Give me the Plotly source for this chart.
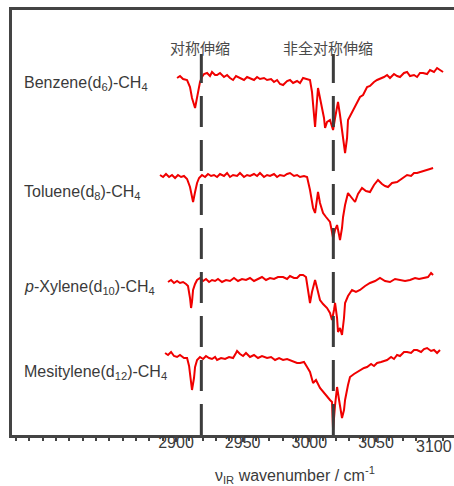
import plotly.graph_objects as go

# ---- data ----
benzene_wn = [2900.8, 2903.0, 2905.3, 2908.3, 2910.5, 2912.0, 2914.3, 2915.8, 2916.5, 2918.0, 2919.5, 2921.0,
              2923.3, 2925.5, 2927.0, 2929.3, 2930.8, 2933.0, 2936.0, 2938.3, 2940.5, 2942.8, 2945.0, 2948.0,
              2951.0, 2953.3, 2955.5, 2958.5, 2960.8, 2963.0, 2966.0, 2968.3, 2971.3, 2973.5, 2975.8, 2978.0,
              2980.3, 2983.3, 2985.5, 2987.8, 2990.8, 2993.0, 2995.3, 2998.3, 3000.5, 3002.0, 3004.3, 3005.8,
              3006.5, 3008.0, 3009.5, 3011.0, 3011.8, 3013.3, 3015.5, 3017.0, 3017.8, 3019.3, 3021.5, 3023.0,
              3024.5, 3026.0, 3026.8, 3028.3, 3029.0, 3030.5, 3032.8, 3035.0, 3038.0, 3040.3, 3043.3, 3045.5,
              3048.5, 3050.8, 3053.0, 3056.0, 3058.3, 3060.5, 3063.5, 3065.8, 3068.0, 3071.0, 3073.3, 3075.5,
              3078.5, 3080.8, 3083.0, 3085.3, 3088.3, 3090.5, 3093.5, 3095.8, 3098.0, 3100.3]
benzene_sig = [-1, 1, -2, -3, -10, -21, -31, -21, -16, -5, 0, 3,
               4, 1, 5, 2, 2, 4, 0, 2, -1, -3, 1, -1,
               -3, 0, -1, -3, 0, -2, -1, -3, -2, -5, -3, -7,
               -8, -4, -3, -6, -4, -6, -1, -2, -3, -15, -50, -23,
               -11, -21, -30, -41, -51, -45, -43, -49, -53, -41, -25, -38,
               -56, -68, -76, -61, -43, -39, -33, -27, -20, -18, -10, -9,
               -5, -3, -2, 0, 2, -1, 3, 1, 0, 4, 5, 1,
               2, 0, 4, 4, 3, 7, 5, 9, 7, 5]

toluene_wn = [2888.0, 2890.3, 2892.5, 2894.8, 2897.0, 2899.3, 2901.5, 2903.8, 2906.0, 2908.3, 2910.5, 2912.0,
              2912.8, 2914.3, 2915.8, 2917.3, 2919.5, 2921.8, 2924.0, 2926.3, 2928.5, 2930.8, 2933.0, 2936.0,
              2938.3, 2940.5, 2942.8, 2945.8, 2948.0, 2951.0, 2953.3, 2955.5, 2958.5, 2960.8, 2963.0, 2966.0,
              2968.3, 2970.5, 2973.5, 2975.8, 2978.0, 2981.0, 2983.3, 2985.5, 2988.5, 2990.8, 2993.0, 2996.0,
              2998.3, 3000.5, 3002.8, 3004.3, 3005.8, 3006.5, 3008.0, 3010.3, 3012.5, 3015.5, 3017.0, 3017.8,
              3019.3, 3020.8, 3022.3, 3023.0, 3024.5, 3025.3, 3026.8, 3029.0, 3031.3, 3034.3, 3036.5, 3039.5,
              3042.5, 3045.5, 3048.5, 3051.5, 3054.5, 3056.8, 3059.0, 3062.0, 3065.8, 3068.8, 3071.0, 3073.3,
              3076.3, 3078.5, 3080.8, 3083.8, 3086.0, 3088.3, 3090.5, 3092.8]
toluene_sig = [1, -1, 2, -1, 1, -2, 1, -1, 0, -3, -11, -21,
               -26, -16, -7, -2, 1, -1, 2, 0, 1, -1, 2, 0,
               3, -1, 1, 0, 3, -1, 1, 0, 2, 0, 3, -1,
               1, 0, 2, -1, 1, 0, 2, 3, 0, 1, -1, 0,
               -1, -14, -32, -37, -22, -16, -27, -37, -41, -46, -56, -62,
               -54, -49, -59, -64, -52, -41, -29, -17, -21, -26, -18, -12,
               -15, -16, -9, -4, -8, -10, -11, -7, -6, -3, -1, 1,
               0, 3, 3, 4, 5, 6, 7, 8]

xylene_wn = [2894.0, 2896.3, 2898.5, 2900.8, 2903.0, 2905.3, 2907.5, 2909.0, 2910.5, 2911.3, 2912.0, 2912.8,
             2914.3, 2915.8, 2918.0, 2920.3, 2922.5, 2924.8, 2927.0, 2929.3, 2931.5, 2934.5, 2937.5, 2940.5,
             2943.5, 2946.5, 2949.5, 2952.5, 2955.5, 2958.5, 2961.5, 2964.5, 2967.5, 2970.5, 2973.5, 2976.5,
             2980.3, 2983.3, 2985.5, 2988.5, 2990.8, 2993.0, 2995.3, 2997.5, 2999.0, 3000.5, 3002.0, 3004.3,
             3005.8, 3008.0, 3010.3, 3013.3, 3015.5, 3017.0, 3018.5, 3019.3, 3020.8, 3021.5, 3023.0, 3024.5,
             3026.0, 3026.8, 3029.0, 3032.0, 3035.0, 3038.0, 3041.8, 3045.5, 3049.3, 3053.0, 3056.8, 3060.5,
             3064.3, 3068.0, 3071.8, 3075.5, 3079.3, 3082.3, 3085.3, 3089.0, 3091.3, 3092.8]
xylene_sig = [-2, 0, -3, -1, -3, -2, -4, -6, -18, -28, -22, -10,
              -4, 0, 2, -1, 1, -2, 0, -1, 1, -2, 0, -1,
              2, -1, 1, 0, 2, -1, 1, 3, 0, 2, 1, 3,
              3, 1, 4, 2, 2, 5, 5, 3, -10, -23, -12, 0,
              -8, -20, -24, -28, -33, -40, -30, -23, -38, -52, -48, -55,
              -38, -23, -16, -10, -12, -10, -6, -3, -1, 2, -1, -2,
              1, 0, -1, 0, 2, 1, 2, 3, 7, 5]

mesitylene_wn = [2891.8, 2894.0, 2896.3, 2898.5, 2900.8, 2903.0, 2906.0, 2908.3, 2909.8, 2910.5, 2912.0, 2913.5,
                 2914.3, 2915.8, 2918.0, 2920.3, 2922.5, 2924.8, 2927.0, 2929.3, 2930.8, 2933.8, 2936.8, 2939.8,
                 2942.8, 2945.0, 2945.8, 2948.0, 2950.3, 2952.5, 2955.5, 2958.5, 2961.5, 2964.5, 2968.3, 2971.3,
                 2974.3, 2977.3, 2980.3, 2983.3, 2985.5, 2988.5, 2990.8, 2993.0, 2996.0, 2998.3, 3000.5, 3002.8,
                 3005.0, 3008.0, 3010.3, 3013.3, 3015.5, 3017.0, 3017.8, 3019.3, 3020.8, 3022.3, 3024.5, 3026.0,
                 3026.8, 3029.0, 3030.5, 3033.5, 3035.8, 3038.8, 3041.0, 3043.3, 3046.3, 3048.5, 3050.8, 3053.8,
                 3056.0, 3058.3, 3061.3, 3063.5, 3065.8, 3068.0, 3071.0, 3073.3, 3076.3, 3078.5, 3080.8, 3083.8,
                 3086.0, 3088.3, 3091.3, 3093.5, 3095.8, 3098.0]
mesitylene_sig = [4, 2, 5, 1, 0, 2, -1, -1, -9, -16, -33, -21,
                  -10, -3, 0, -2, 1, -1, -2, 0, -3, -1, -2, 0,
                  -1, 4, 6, 3, 1, 4, 0, 2, -1, 1, -1, 0,
                  -3, -1, -3, -2, -3, -5, -6, -6, -5, -10, -15, -26,
                  -23, -31, -35, -40, -43, -45, -73, -48, -30, -43, -61, -53,
                  -43, -28, -20, -17, -15, -13, -11, -10, -7, -9, -6, -5,
                  -4, -3, 0, -2, 2, 1, 5, 5, 4, 7, 7, 5,
                  8, 9, 6, 7, 4, 7]

series_names = ["Benzene(d<sub>6</sub>)-CH<sub>4</sub>",
                "Toluene(d<sub>8</sub>)-CH<sub>4</sub>",
                "<i>p</i>-Xylene(d<sub>10</sub>)-CH<sub>4</sub>",
                "Mesitylene(d<sub>12</sub>)-CH<sub>4</sub>"]
series_offsets = [358, 259, 155, 78]
label_y = [352, 243, 148, 63]

band_positions = [2919, 3018]
band_labels = ["对称伸缩", "非全对称伸缩"]
band_label_x = [2918, 3014]

x_ticks = [2900, 2950, 3000, 3050, 3100]
x_title = "ν<sub>IR</sub> wavenumber / cm<sup>-1</sup>"

tick_font = dict(family="Liberation Sans, Arial", size=16, color="#3a3a3a")

# ---- figure ----
fig = go.Figure()
all_wn = [benzene_wn, toluene_wn, xylene_wn, mesitylene_wn]
all_sig = [benzene_sig, toluene_sig, xylene_sig, mesitylene_sig]
for wn, sig, off in zip(all_wn, all_sig, series_offsets):
    fig.add_trace(go.Scatter(x=wn, y=[s + off for s in sig], mode="lines",
                             line=dict(color="#f00000", width=2), showlegend=False,
                             hoverinfo="skip"))

for xb in band_positions:
    fig.add_shape(type="line", xref="x", yref="y", x0=xb, x1=xb, y0=0, y1=381,
                  line=dict(color="#3c3c3c", width=3, dash="31px,13px"), layer="above")

for name, ly in zip(series_names, label_y):
    fig.add_annotation(text=name, xref="paper", yref="y", x=0.0226, y=ly,
                       xanchor="left", yanchor="middle", showarrow=False,
                       font=dict(family="Liberation Sans, Arial", size=16, color="#3a3a3a"))

for txt, bx in zip(band_labels, band_label_x):
    fig.add_annotation(text=txt, xref="x", yref="y", x=bx, y=388, xanchor="center",
                       yanchor="middle", showarrow=False,
                       font=dict(family="Noto Sans CJK SC", size=15, color="#4a4a4a"))

# last tick label sits at the right edge of the page (partly clipped in the reference)
fig.add_annotation(text=str(x_ticks[-1]), xref="paper", yref="paper", x=1.0, y=-0.026,
                   xanchor="right", yanchor="middle", showarrow=False, font=tick_font)

fig.add_annotation(text=x_title, xref="x", yref="paper", x=2989, y=-0.094,
                   xanchor="center", yanchor="middle", showarrow=False,
                   font=dict(family="Liberation Sans, Arial", size=16, color="#3a3a3a"))

fig.update_layout(
    width=454, height=486,
    margin=dict(l=12, r=0, t=10, b=51),
    paper_bgcolor="white", plot_bgcolor="white",
    xaxis=dict(range=[2777, 3108.5], tickvals=x_ticks[:-1], ticks="outside", ticklen=4,
               tickwidth=1.5, tickcolor="#444", showline=True, linecolor="#444",
               linewidth=2.5, mirror=True, showgrid=False, zeroline=False,
               ticklabelstandoff=-13,
               minor=dict(dtick=10, tick0=2900, ticks="outside", ticklen=3, tickcolor="#444"),
               tickfont=tick_font),
    yaxis=dict(range=[0, 425], showline=True, linecolor="#444", linewidth=3,
               showticklabels=False, ticks="", showgrid=False, zeroline=False),
)

fig.write_html("out.html", config={"displayModeBar": False},
               post_script="document.body.style.margin='0';document.body.style.overflow='hidden';")
